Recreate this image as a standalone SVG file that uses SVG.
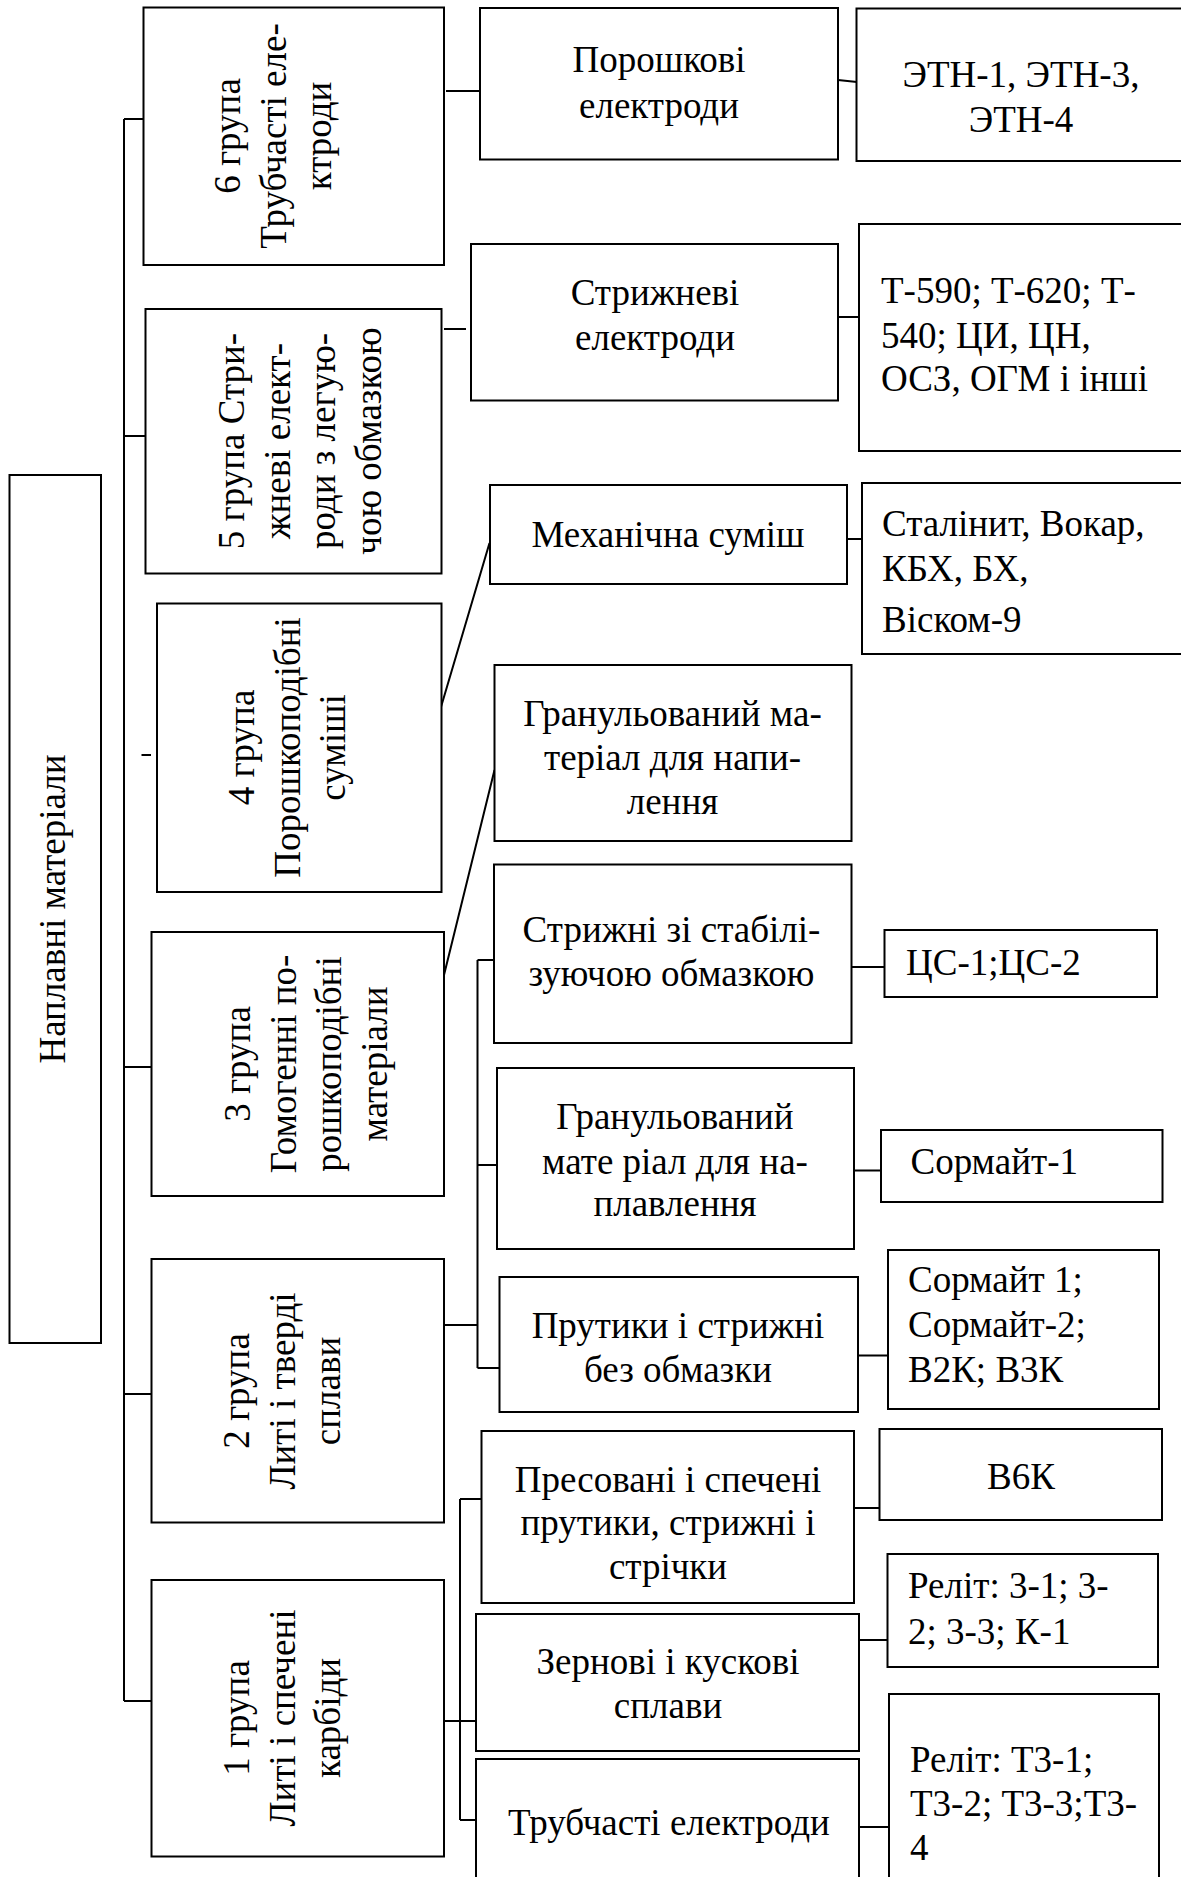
<svg xmlns="http://www.w3.org/2000/svg" width="1181" height="1877" viewBox="0 0 1181 1877">
<style>
.b{fill:#fff;stroke:#000;stroke-width:2}
.c{fill:none;stroke:#000;stroke-width:2}
text{font-family:"Liberation Serif","Times New Roman",serif;font-size:37px;fill:#000}
.m{text-anchor:middle}
</style>
<rect width="1181" height="1877" fill="#fff"/>
<g id="connectors">
<path class="c" d="M124 119V1701M124 119H146M124 436H146M141.5 755H151M124 1067H152M124 1394H152M124 1701H152"/>
<path class="c" d="M446 91H481M444 329H466M441 707L489.5 543M444 975L494.5 770"/>
<path class="c" d="M443 1325H477.5M477.5 960V1368M477.5 960H495M477.5 1165H498M477.5 1368H500"/>
<path class="c" d="M444 1721H477M460 1499V1820M460 1499H482M460 1820H477"/>
<path class="c" d="M838 80L857 82M835 317H860M847 539H863M851.5 967H885M854 1170.5H882M858 1355.5H888M854 1508H880M859 1640H888M859 1827H890"/>
</g>
<g id="root"><rect class="b" x="9.5" y="475" width="91.5" height="868"/><text class="m" transform="translate(55,909) rotate(-90)" x="0" y="10">Наплавні матеріали</text></g>
<g id="g6"><rect class="b" x="143.5" y="7.5" width="300.5" height="257.5"/><g transform="translate(0,136) rotate(-90)"><text class="m" x="0" y="240">6 група</text><text class="m" x="0" y="285.5">Трубчасті еле-</text><text class="m" x="0" y="331">ктроди</text></g></g>
<g id="g5"><rect class="b" x="145.5" y="309" width="296" height="264.5"/><g transform="translate(0,441) rotate(-90)"><text class="m" x="0" y="244">5 група Стри-</text><text class="m" x="0" y="289.5">жневі елект-</text><text class="m" x="0" y="335">роди з легую-</text><text class="m" x="0" y="380.5">чою обмазкою</text></g></g>
<g id="g4"><rect class="b" x="157" y="603.5" width="284.5" height="288.5"/><g transform="translate(0,747.5) rotate(-90)"><text class="m" x="0" y="254">4 група</text><text class="m" x="0" y="299.5">Порошкоподібні</text><text class="m" x="0" y="345">суміші</text></g></g>
<g id="g3"><rect class="b" x="151.5" y="932" width="292.5" height="264"/><g transform="translate(0,1064) rotate(-90)"><text class="m" x="0" y="250">3 група</text><text class="m" x="0" y="295.5">Гомогенні по-</text><text class="m" x="0" y="341">рошкоподібні</text><text class="m" x="0" y="386.5">матеріали</text></g></g>
<g id="g2"><rect class="b" x="151.5" y="1259" width="292.5" height="263.5"/><g transform="translate(0,1391) rotate(-90)"><text class="m" x="0" y="249">2 група</text><text class="m" x="0" y="294.5">Литі і тверді</text><text class="m" x="0" y="340">сплави</text></g></g>
<g id="g1"><rect class="b" x="151.5" y="1580" width="292.5" height="276.5"/><g transform="translate(0,1718) rotate(-90)"><text class="m" x="0" y="249">1 група</text><text class="m" x="0" y="294.5">Литі і спечені</text><text class="m" x="0" y="340">карбіди</text></g></g>
<g id="porosh"><rect class="b" x="480" y="8" width="358" height="151.5"/><text class="m" x="659" y="72">Порошкові</text><text class="m" x="659" y="118">електроди</text></g>
<g id="stryzh"><rect class="b" x="471" y="244" width="367" height="156.5"/><text class="m" x="655" y="305">Стрижневі</text><text class="m" x="655" y="350">електроди</text></g>
<g id="mech"><rect class="b" x="490" y="485" width="357" height="99"/><text class="m" x="668" y="547">Механічна суміш</text></g>
<g id="gran1"><rect class="b" x="494.5" y="665" width="357" height="176"/><text class="m" x="672.5" y="726">Гранульований ма-</text><text class="m" x="672.5" y="770">теріал для напи-</text><text class="m" x="672.5" y="814">лення</text></g>
<g id="stab"><rect class="b" x="494" y="864.5" width="357.5" height="178.5"/><text class="m" x="671.5" y="941.5">Стрижні зі стабілі-</text><text class="m" x="671.5" y="985.5">зуючою обмазкою</text></g>
<g id="gran2"><rect class="b" x="497" y="1068" width="357" height="181"/><text class="m" x="675" y="1129">Гранульований</text><text class="m" x="675" y="1173.5">мате ріал для на-</text><text class="m" x="675" y="1216">плавлення</text></g>
<g id="prut"><rect class="b" x="499.5" y="1277" width="358.5" height="135"/><text class="m" x="678" y="1338">Прутики і стрижні</text><text class="m" x="678" y="1382">без обмазки</text></g>
<g id="pres"><rect class="b" x="481.5" y="1431" width="372.5" height="172"/><text class="m" x="668" y="1492">Пресовані і спечені</text><text class="m" x="668" y="1535">прутики, стрижні і</text><text class="m" x="668" y="1579">стрічки</text></g>
<g id="zern"><rect class="b" x="476" y="1614" width="383" height="137"/><text class="m" x="668" y="1674">Зернові і кускові</text><text class="m" x="668" y="1718">сплави</text></g>
<g id="trub"><rect class="b" x="476" y="1759" width="383" height="140"/><text class="m" x="669" y="1834.5">Трубчасті електроди</text></g>
<g id="etn"><rect class="b" x="856.5" y="8.5" width="340" height="152.5"/><text class="m" x="1021" y="87">ЭТН-1, ЭТН-3,</text><text class="m" x="1021" y="132">ЭТН-4</text></g>
<g id="t590"><rect class="b" x="859" y="224" width="340" height="227"/><text x="881" y="303">Т-590; Т-620; Т-</text><text x="881" y="348">540; ЦИ, ЦН,</text><text x="881" y="391">ОСЗ, ОГМ і інші</text></g>
<g id="stal"><rect class="b" x="862" y="483" width="340" height="171"/><text x="882" y="536">Сталінит, Вокар,</text><text x="882" y="581">КБХ, БХ,</text><text x="882" y="632">Віском-9</text></g>
<g id="cs"><rect class="b" x="884.5" y="930" width="272.5" height="67"/><text x="906" y="975">ЦС-1;ЦС-2</text></g>
<g id="sorm1"><rect class="b" x="881" y="1130" width="281.5" height="72"/><text x="910.5" y="1173.5">Сормайт-1</text></g>
<g id="sorm2"><rect class="b" x="888" y="1250" width="271" height="159"/><text x="908" y="1292">Сормайт 1;</text><text x="908" y="1337">Сормайт-2;</text><text x="908" y="1382">В2К; В3К</text></g>
<g id="v6k"><rect class="b" x="879.5" y="1429" width="282.5" height="91"/><text class="m" x="1021" y="1489">В6К</text></g>
<g id="relit1"><rect class="b" x="887.5" y="1554" width="270.5" height="113"/><text x="908" y="1598">Реліт: 3-1; 3-</text><text x="908" y="1644">2; 3-3; К-1</text></g>
<g id="relit2"><rect class="b" x="889" y="1694" width="270" height="200"/><text x="910" y="1772">Реліт: Т3-1;</text><text x="910" y="1816">Т3-2; Т3-3;Т3-</text><text x="910" y="1860">4</text></g>
</svg>
